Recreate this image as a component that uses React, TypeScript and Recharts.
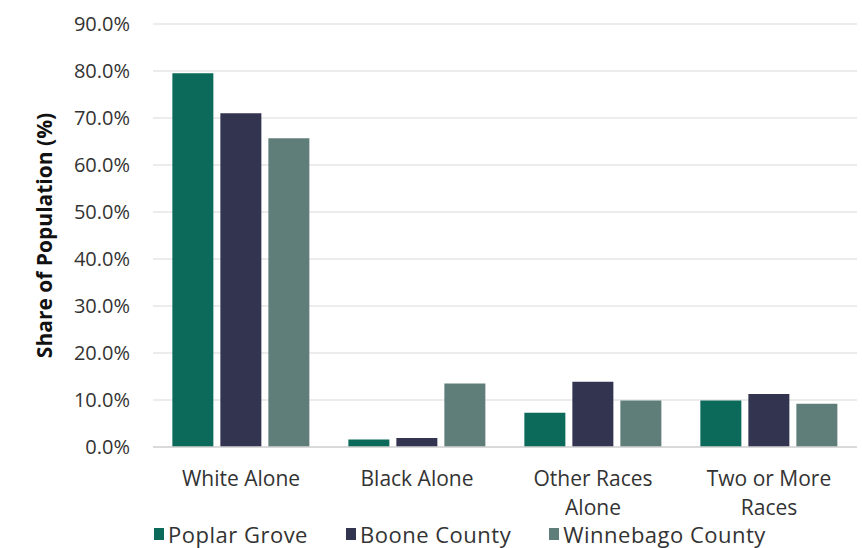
import React from "react";
import { BarChart, Bar, XAxis, YAxis, CartesianGrid, Legend } from "recharts";

const categories = ["White Alone", "Black Alone", "Other Races Alone", "Two or More Races"];
const categoryLines = [["White Alone"], ["Black Alone"], ["Other Races", "Alone"], ["Two or More", "Races"]];
const poplarGrove = [79.5, 1.6, 7.3, 9.9];
const booneCounty = [71.0, 1.9, 13.9, 11.3];
const winnebagoCounty = [65.7, 13.5, 9.9, 9.2];
const yTicks = [0, 10, 20, 30, 40, 50, 60, 70, 80, 90];

const seriesNames = ["Poplar Grove", "Boone County", "Winnebago County"];
const colors = ["#0b6a5a", "#33344f", "#5f7e79"];

const data = categories.map((c, i) => ({
  name: c,
  pg: poplarGrove[i],
  bc: booneCounty[i],
  wc: winnebagoCounty[i],
}));

const FONT = "'Open Sans', sans-serif";

const CatTick = (props: any) => {
  const { x, y, payload } = props;
  const idx = categories.indexOf(payload.value);
  const lines = categoryLines[idx] || [payload.value];
  return (
    <text x={x} y={y} textAnchor="middle" fill="#333" fontFamily={FONT} fontSize={21}>
      {lines.map((l: string, i: number) => (
        <tspan key={i} x={x} dy={i === 0 ? 31 : 29}>
          {l}
        </tspan>
      ))}
    </text>
  );
};

const LegendContent = () => (
  <div style={{ display: "flex", fontFamily: FONT, fontSize: 22, color: "#333", paddingLeft: 154, lineHeight: "24px", letterSpacing: 0.5 }}>
    {seriesNames.map((n, i) => (
      <div key={n} style={{ display: "flex", alignItems: "center", marginRight: 38 }}>
        <span style={{ width: 10, height: 12, background: colors[i], display: "inline-block", marginRight: 4 }} />
        <span>{n}</span>
      </div>
    ))}
  </div>
);

export default function App() {
  return (
    <div style={{ position: "absolute", left: 0, top: 0, background: "#fff" }}>
      <BarChart
        width={862}
        height={548}
        data={data}
        margin={{ top: 24, right: 5, bottom: 47, left: 53 }}
        barCategoryGap="11%"
        barGap={7}
      >
        <CartesianGrid vertical={false} stroke="#e6e6e6" strokeWidth={1.5} />
        <XAxis
          dataKey="name"
          tick={<CatTick />}
          tickLine={false}
          axisLine={{ stroke: "#d4d4d4", strokeWidth: 1.5 }}
          interval={0}
        />
        <YAxis
          width={100}
          domain={[0, 90]}
          ticks={yTicks}
          tickFormatter={(v: number) => `${v.toFixed(1)}%`}
          tick={{ fill: "#333", fontFamily: FONT, fontSize: 20 }}
          tickLine={false}
          axisLine={false}
          tickMargin={17}
          label={{
            value: "Share of Population (%)",
            angle: -90,
            position: "center",
            dx: -58,
            style: { fontFamily: FONT, fontSize: 21, fontWeight: 700, fill: "#111" },
          }}
        />
        <Legend verticalAlign="bottom" content={<LegendContent />} wrapperStyle={{ left: 0, bottom: 2 }} />
        <Bar dataKey="pg" name={seriesNames[0]} fill={colors[0]} isAnimationActive={false} />
        <Bar dataKey="bc" name={seriesNames[1]} fill={colors[1]} isAnimationActive={false} />
        <Bar dataKey="wc" name={seriesNames[2]} fill={colors[2]} isAnimationActive={false} />
      </BarChart>
    </div>
  );
}
